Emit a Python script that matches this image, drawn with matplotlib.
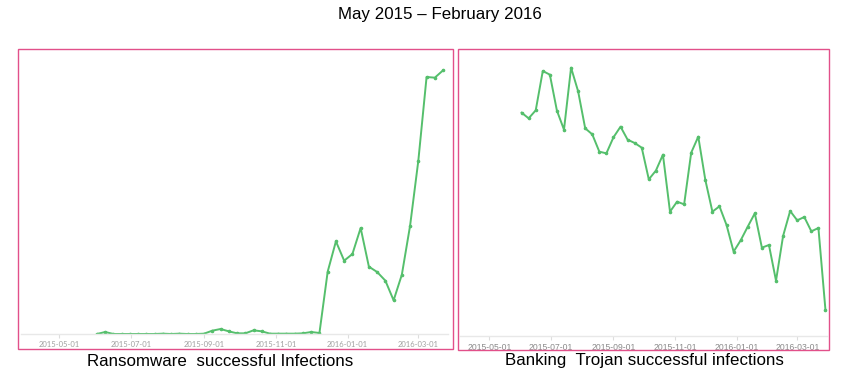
import matplotlib

matplotlib.use('Agg')
import matplotlib.pyplot as plt
import matplotlib.dates as mdates
from matplotlib.patches import Rectangle
import pandas as pd

# weekly samples, arbitrary units (no y scale shown on the original)
ransom_start = '2015-06-02'
ransom_values = [0, 6, 0, 0, 0, 0, 0, 0, 1, 0, 1, 0, 0, 1, 10, 15, 8, 2, 2, 11,
                 8, 1, 1, 1, 1, 2, 6, 3, 187, 278, 220, 240, 318, 202, 186, 160,
                 101, 178, 325, 520, 771, 769, 791]

bank_start = '2015-06-02'
bank_values = [670, 653, 677, 795, 784, 676, 619, 805, 734, 623, 605, 553, 548,
               596, 628, 589, 579, 565, 470, 496, 544, 373, 403, 395, 550, 598,
               468, 373, 389, 333, 253, 287, 328, 368, 265, 273, 166, 300, 375,
               347, 357, 314, 324, 77]

tick_dates = ['2015-05-01', '2015-07-01', '2015-09-01', '2015-11-01',
              '2016-01-01', '2016-03-01']

title = 'May 2015 \u2013 February 2016'
ransom_label = 'Ransomware  successful Infections'
bank_label = 'Banking  Trojan successful infections'

green = '#55bf6c'
pink = '#e2508a'

W, H = 849, 380
fig = plt.figure(figsize=(W / 100, H / 100), dpi=100)


def px_box(x0, x1, y_top, y_base):
    return [x0 / W, 1 - y_base / H, (x1 - x0) / W, (y_base - y_top) / H]


def style_axis(ax, tick_font, tick_size, tick_color):
    for s in ('left', 'right', 'top'):
        ax.spines[s].set_visible(False)
    ax.spines['bottom'].set_color('#e8e8e8')
    ax.spines['bottom'].set_linewidth(1)
    ax.set_yticks([])
    ax.set_xticks(pd.to_datetime(tick_dates))
    ax.xaxis.set_major_formatter(mdates.DateFormatter('%Y-%m-%d'))
    ax.tick_params(axis='x', length=3, color='#dddddd', pad=2,
                   labelsize=tick_size, labelcolor=tick_color)
    for t in ax.get_xticklabels():
        t.set_family(tick_font)
    ax.patch.set_alpha(0)


base = pd.Timestamp('2015-05-01')

# left panel: ransomware
ax1 = fig.add_axes(px_box(21, 448, 52, 334))
d1 = pd.date_range(ransom_start, periods=len(ransom_values), freq='7D')
ax1.plot(d1, ransom_values, color=green, lw=1.4, marker='o', ms=1.6)
ax1.set_ylim(0, 846)
ax1.set_xlim(base - pd.Timedelta(days=32.5), base + pd.Timedelta(days=330.2))
style_axis(ax1, 'Lato', 5.5, '#a0a0a0')

# right panel: banking trojan
ax2 = fig.add_axes(px_box(460, 827, 52, 336))
d2 = pd.date_range(bank_start, periods=len(bank_values), freq='7D')
ax2.plot(d2, bank_values, color=green, lw=1.4, marker='o', ms=1.6)
ax2.set_ylim(0, 852)
ax2.set_xlim(base - pd.Timedelta(days=29), base + pd.Timedelta(days=334.5))
style_axis(ax2, 'Liberation Sans', 6.2, '#8a8a8a')

# pink frames around the panels
for x0, x1, y0, y1 in [(18, 453, 49, 349), (458, 829, 49, 350)]:
    fig.patches.append(Rectangle((x0 / W, 1 - y1 / H), (x1 - x0) / W, (y1 - y0) / H,
                                 transform=fig.transFigure, fill=False,
                                 edgecolor=pink, lw=1))

fig.text(440 / W, 1 - 14 / H, title, ha='center', va='center',
         family='Liberation Sans', fontsize=12.2)
fig.text(220 / W, 1 - 361 / H, ransom_label, ha='center', va='center',
         family='Liberation Sans', fontsize=12.2)
fig.text(644 / W, 1 - 361 / H, bank_label, ha='center', va='center',
         family='Liberation Sans', fontsize=12.2)

fig.savefig('out.png', dpi=100)
